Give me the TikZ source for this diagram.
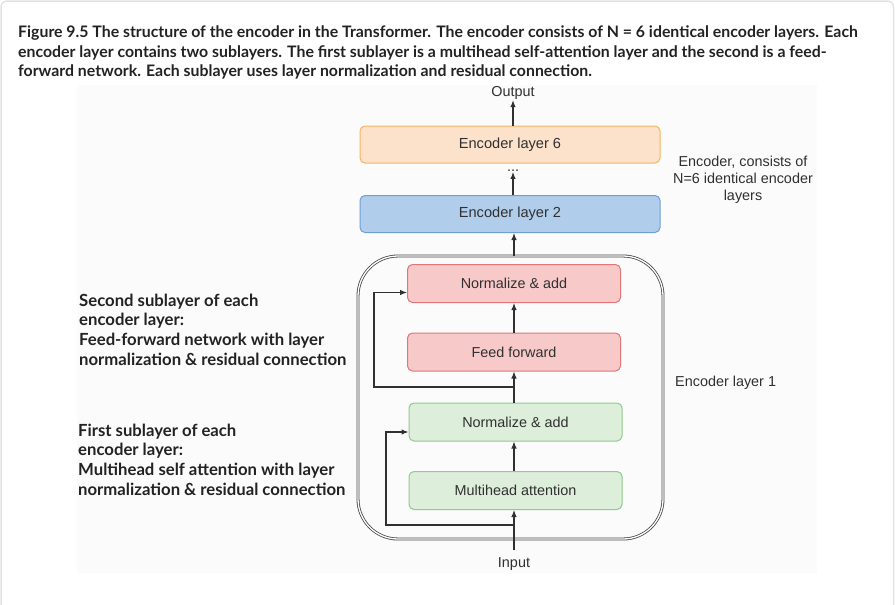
\documentclass[tikz,border=0pt]{standalone}
\usepackage{fontspec}
\setmainfont{Liberation Sans}
\newfontfamily\capfont{Lato}
\usetikzlibrary{arrows.meta}

\definecolor{txt}{HTML}{303030}
\definecolor{capt}{HTML}{222222}
\definecolor{framegray}{HTML}{E2E2E2}
\definecolor{bggray}{HTML}{FBFBFB}
\definecolor{peachfill}{HTML}{FDE2CB}
\definecolor{peachline}{HTML}{F4B460}
\definecolor{bluefill}{HTML}{B0CEEC}
\definecolor{blueline}{HTML}{6E9FD6}
\definecolor{redfill}{HTML}{F8C9C9}
\definecolor{redline}{HTML}{E07676}
\definecolor{greenfill}{HTML}{DDEEDB}
\definecolor{greenline}{HTML}{8ECB8C}

\tikzset{
  encbox/.style={draw, rounded corners=5pt, line width=1pt, minimum width=300pt,
    minimum height=37pt, inner sep=0pt, text=txt, font=\fontsize{14.6}{17}\selectfont},
  subbox/.style={draw, rounded corners=5pt, line width=1pt, minimum width=213pt,
    minimum height=38pt, inner sep=0pt, text=txt, font=\fontsize{14.4}{17}\selectfont},
  plain/.style={text=txt, inner sep=1pt, font=\fontsize{14.4}{17}\selectfont},
  capline/.style={anchor=base west, inner sep=0pt, text=capt,
    font=\capfont\bfseries\fontsize{15.85}{19.7}\selectfont},
  sidenote/.style={anchor=north west, align=left, inner sep=0pt, text=capt,
    font=\capfont\bfseries\fontsize{16.7}{19.8}\selectfont},
  arr/.style={draw=txt, line width=1.1pt, -{Latex[length=7pt,width=5.5pt]}},
  res/.style={draw=txt, line width=1.1pt}
}

\begin{document}
\begin{tikzpicture}[x=1pt,y=-1pt]
\useasboundingbox (0,0) rectangle (895,605);
\draw[framegray, line width=1.5pt, rounded corners=6pt] (1,1) rectangle (893.5,640);
\fill[bggray] (77,85) rectangle (817,573);

% caption
\node[capline] (cap1) at (18,37) {Figure 9.5 The structure of the encoder in the Transformer. The encoder consists of N = 6 identical encoder layers. Each};
\node[capline] (cap2) at (18,57) {encoder layer contains two sublayers. The first sublayer is a multihead self-attention layer and the second is a feed-};
\node[capline] (cap3) at (18,76.5) {forward network. Each sublayer uses layer normalization and residual connection.};

% encoder stack
\node[plain] (output) at (513,92.5) {Output};
\node[encbox, fill=peachfill, draw=peachline] (enc6) at (510,144.5) {Encoder layer 6};
\node[plain, inner sep=0pt] (dots) at (513,171) {...};
\node[encbox, fill=bluefill, draw=blueline] (enc2) at (510,214) {Encoder layer 2};

% encoder layer 1
\draw[gray!55!black, line width=0.8pt, double=white, double distance=1.3pt, rounded corners=40pt]
  (358,256) rectangle (663,539);
\coordinate (enc1top) at (514,256);
\node[subbox, fill=redfill, draw=redline] (norm2) at (514,283.5) {Normalize \& add};
\node[subbox, fill=redfill, draw=redline] (ff) at (514,352) {Feed forward};
\node[subbox, fill=greenfill, draw=greenline] (norm1) at (515.5,422) {Normalize \& add};
\node[subbox, fill=greenfill, draw=greenline] (mha) at (515.5,490.5) {Multihead attention};
\node[plain] (input) at (514,564) {Input};

% connectors
\draw[arr] (enc6.north -| output) -- (output.south);
\draw[arr] (enc2.north -| dots) -- (dots.south);
\draw[arr] (enc1top) -- (enc2.south -| enc1top);
\draw[arr] (ff.north) -- (norm2.south);
\draw[arr] (norm1.north -| ff) -- (ff.south);
\draw[arr] (mha.north -| ff) -- (norm1.south -| ff);
\draw[arr] ([yshift=6pt]input.north -| ff) -- (mha.south -| ff);

% residual connections
\coordinate (res2) at (514,387);
\coordinate (res1) at (514,525);
\draw[arr] (res2) -- ++(-140,0) |- ([yshift=-9pt]norm2.west);
\draw[arr] (res1) -- ++(-128,0) |- ([yshift=-10pt]norm1.west);

% side notes
\node[plain, align=center] (encnote) at (743,180)
  {Encoder, consists of\\N=6 identical encoder\\layers};
\node[plain, anchor=west] (enc1note) at (674,383) {Encoder layer 1};
\node[sidenote] (second) at (79,293.5) {Second sublayer of each\\encoder layer:\\Feed-forward network with layer\\normalization \& residual connection};
\node[sidenote] (first) at (78,423.5) {First sublayer of each\\encoder layer:\\Multihead self attention with layer\\normalization \& residual connection};
\end{tikzpicture}
\end{document}
